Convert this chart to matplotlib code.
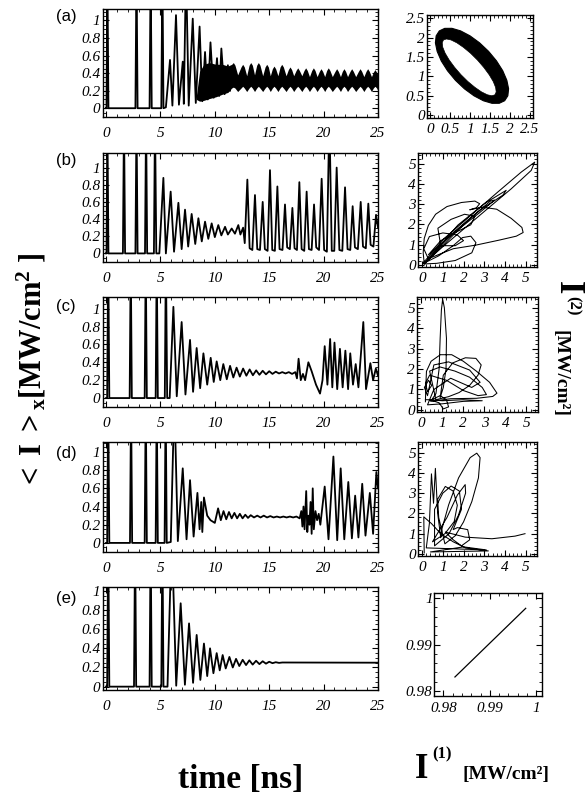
import numpy as np
import matplotlib
matplotlib.use('Agg')
import matplotlib.pyplot as plt
from matplotlib.ticker import MultipleLocator

plt.rcParams['mathtext.fontset'] = 'custom'
plt.rcParams['mathtext.rm'] = 'Liberation Serif'
plt.rcParams['mathtext.bf'] = 'Liberation Serif:bold'
plt.rcParams['mathtext.it'] = 'Liberation Serif:italic'

# ---- data ----------------------------------------------------------------
# time traces <I>x (t in ns, value in MW/cm^2), spikes above 1 are clipped
traceA = [(0, 0), (0.04, 0), (0.12, 1.6), (0.22, 0), (2.7, 0), (2.8, 1.6), (2.9, 0),
          (4.0, 0), (4.1, 1.6), (4.2, 0), (5.08, 0), (5.18, 1.6), (5.28, 0), (5.5, 0.01),
          (5.88, 0.55), (6.1, 0.03), (6.43, 1.06), (6.7, 0.04), (7.05, 0.53), (7.15, 0.05),
          (7.35, 1.6), (7.6, 0.03), (7.97, 1.02), (8.25, 0.06), (8.6, 0.93), (8.85, 0.08),
          (9.1, 0.64), (9.35, 0.1), (9.6, 0.75), (9.9, 0.12), (10.2, 0.57), (10.4, 0.14),
          (10.6, 0.68), (10.9, 0.16), (11.2, 0.49), (11.4, 0.2)]

# fast oscillation band of (a): (t, lower edge, upper edge)
bandA = [(8.3, 0.1, 0.14), (8.6, 0.08, 0.42), (9.0, 0.09, 0.5), (9.5, 0.11, 0.52),
         (10.1, 0.13, 0.5), (10.7, 0.16, 0.5), (11.2, 0.18, 0.48), (11.55, 0.23, 0.5),
         (11.7, 0.24, 0.52), (11.85, 0.23, 0.49), (12.1, 0.19, 0.38), (12.41, 0.23, 0.47),
         (12.56, 0.25, 0.5), (12.71, 0.23, 0.47), (12.93, 0.19, 0.37), (13.15, 0.23, 0.49),
         (13.3, 0.25, 0.52), (13.45, 0.23, 0.49), (13.65, 0.19, 0.38), (13.85, 0.23, 0.49),
         (14.0, 0.25, 0.52), (14.15, 0.23, 0.49), (14.4, 0.19, 0.37), (14.62, 0.23, 0.47),
         (14.77, 0.25, 0.5), (14.92, 0.23, 0.47), (15.1, 0.19, 0.37), (15.29, 0.23, 0.45),
         (15.44, 0.25, 0.48), (15.59, 0.23, 0.45), (15.8, 0.19, 0.37), (16.0, 0.23, 0.47),
         (16.15, 0.25, 0.5), (16.3, 0.23, 0.47), (16.55, 0.19, 0.37), (16.76, 0.23, 0.44),
         (16.91, 0.25, 0.47), (17.06, 0.23, 0.44), (17.25, 0.19, 0.37), (17.47, 0.23, 0.43),
         (17.62, 0.25, 0.46), (17.77, 0.23, 0.43), (18.0, 0.19, 0.37), (18.2, 0.23, 0.43),
         (18.35, 0.25, 0.46), (18.5, 0.23, 0.43), (18.7, 0.19, 0.36), (18.91, 0.23, 0.43),
         (19.06, 0.25, 0.46), (19.21, 0.23, 0.43), (19.4, 0.19, 0.36), (19.61, 0.23, 0.42),
         (19.76, 0.25, 0.45), (19.91, 0.23, 0.42), (20.1, 0.19, 0.36), (20.28, 0.23, 0.43),
         (20.43, 0.25, 0.46), (20.58, 0.23, 0.43), (20.8, 0.19, 0.36), (21.05, 0.23, 0.42),
         (21.2, 0.25, 0.45), (21.35, 0.23, 0.42), (21.55, 0.19, 0.36), (21.72, 0.23, 0.42),
         (21.87, 0.25, 0.45), (22.02, 0.23, 0.42), (22.2, 0.19, 0.36), (22.43, 0.23, 0.42),
         (22.58, 0.25, 0.45), (22.73, 0.23, 0.42), (22.95, 0.19, 0.36), (23.2, 0.23, 0.42),
         (23.35, 0.25, 0.45), (23.5, 0.23, 0.42), (23.7, 0.19, 0.36), (23.9, 0.23, 0.42),
         (24.05, 0.25, 0.45), (24.2, 0.23, 0.42), (24.4, 0.19, 0.36), (24.57, 0.23, 0.41),
         (24.72, 0.25, 0.44), (24.87, 0.23, 0.41), (25.0, 0.2, 0.38)]

traceB = [(0, 0), (0.04, 0), (0.12, 1.6), (0.22, 0), (1.55, 0), (1.65, 1.6), (1.75, 0),
          (2.7, 0), (2.8, 1.6), (2.9, 0), (3.58, 0), (3.68, 1.6), (3.78, 0), (4.4, 0),
          (4.5, 1.6), (4.62, 0.0), (4.9, 0.0), (5.27, 0.88), (5.5, 0.0), (5.94, 0.72),
          (6.25, 0.02), (6.65, 0.59), (6.95, 0.05), (7.26, 0.51), (7.55, 0.08), (7.87, 0.46),
          (8.2, 0.11), (8.49, 0.41), (8.8, 0.14), (9.1, 0.37), (9.4, 0.17), (9.71, 0.35),
          (10.0, 0.19), (10.32, 0.33), (10.6, 0.21), (10.94, 0.31), (11.2, 0.22), (11.55, 0.29),
          (11.85, 0.23), (12.16, 0.33), (12.35, 0.22), (12.6, 0.3), (12.75, 0.12), (12.99, 0.86),
          (13.2, 0.06), (13.45, 0.04), (13.69, 0.68), (13.9, 0.05), (14.15, 0.04), (14.4, 0.6),
          (14.6, 0.05), (14.85, 0.03), (15.07, 0.97), (15.28, 0.04), (15.52, 0.03), (15.75, 0.78),
          (15.95, 0.05), (16.22, 0.04), (16.45, 0.57), (16.65, 0.07), (16.9, 0.05), (17.13, 0.53),
          (17.33, 0.06), (17.55, 0.04), (17.77, 0.83), (17.98, 0.05), (18.22, 0.03), (18.44, 0.72),
          (18.65, 0.05), (18.9, 0.04), (19.12, 0.57), (19.32, 0.07), (19.58, 0.04), (19.82, 0.87),
          (20.05, 0.04), (20.3, 0.02), (20.53, 1.6), (20.75, 0.03), (20.98, 0.03), (21.2, 1.0),
          (21.45, 0.04), (21.72, 0.03), (21.97, 0.77), (22.2, 0.05), (22.45, 0.04), (22.67, 0.55),
          (22.88, 0.07), (23.15, 0.05), (23.41, 0.6), (23.62, 0.08), (23.88, 0.06), (24.11, 0.58),
          (24.32, 0.1), (24.58, 0.08), (24.82, 0.45), (25.0, 0.3)]

traceC = [(0, 0), (0.1, 0), (0.2, 1.6), (0.3, 0), (2.17, 0), (2.27, 1.6), (2.37, 0),
          (3.55, 0), (3.65, 1.6), (3.75, 0), (4.56, 0), (4.66, 1.6), (4.76, 0), (5.4, 0.0),
          (5.5, 1.6), (5.62, 0.0), (5.85, 0.0), (6.19, 1.02), (6.5, 0.02), (6.95, 0.85),
          (7.3, 0.04), (7.72, 0.65), (8.0, 0.07), (8.33, 0.56), (8.65, 0.11), (8.95, 0.5),
          (9.3, 0.15), (9.62, 0.45), (9.9, 0.18), (10.17, 0.41), (10.5, 0.2), (10.78, 0.38),
          (11.1, 0.21), (11.4, 0.36), (11.7, 0.23), (12.0, 0.34), (12.3, 0.24), (12.6, 0.33),
          (12.9, 0.25), (13.2, 0.32), (13.5, 0.255), (13.8, 0.31), (14.1, 0.26), (14.4, 0.305),
          (14.7, 0.265), (15.0, 0.3), (15.3, 0.27), (15.6, 0.295), (15.9, 0.275), (16.2, 0.29),
          (16.5, 0.275), (16.8, 0.29), (17.1, 0.27), (17.4, 0.29), (17.55, 0.22), (17.7, 0.44),
          (17.9, 0.2), (18.1, 0.27), (18.3, 0.2), (18.6, 0.4), (18.9, 0.3), (19.3, 0.15),
          (19.67, 0.05), (19.9, 0.2), (20.1, 0.58), (20.35, 0.15), (20.6, 0.66), (20.8, 0.12),
          (21.0, 0.62), (21.25, 0.1), (21.5, 0.55), (21.75, 0.12), (22.0, 0.53), (22.25, 0.1),
          (22.45, 0.5), (22.7, 0.15), (22.95, 0.38), (23.2, 0.12), (23.65, 0.85), (23.9, 0.1),
          (24.3, 0.39), (24.55, 0.2), (24.8, 0.33), (25.0, 0.25)]

traceD = [(0, 0), (0.1, 0), (0.2, 1.6), (0.3, 0), (2.2, 0), (2.3, 1.6), (2.4, 0),
          (3.55, 0), (3.65, 1.6), (3.75, 0), (4.56, 0), (4.66, 1.6), (4.76, 0), (5.38, 0),
          (5.48, 1.6), (5.58, 0), (5.95, 0.01), (6.28, 1.6), (6.6, 0.02), (7.05, 0.82),
          (7.4, 0.04), (7.72, 0.69), (8.05, 0.07), (8.4, 0.55), (8.6, 0.15), (8.75, 0.45),
          (8.85, 0.12), (9.0, 0.5), (9.3, 0.3), (9.6, 0.25), (10.0, 0.22), (10.3, 0.38),
          (10.55, 0.25), (10.8, 0.35), (11.05, 0.26), (11.3, 0.34), (11.55, 0.27), (11.8, 0.33),
          (12.05, 0.27), (12.3, 0.32), (12.55, 0.27), (12.8, 0.31), (13.05, 0.275), (13.3, 0.305),
          (13.6, 0.28), (13.9, 0.3), (14.2, 0.28), (14.5, 0.3), (14.8, 0.28), (15.1, 0.295),
          (15.4, 0.28), (15.7, 0.29), (16.0, 0.28), (16.3, 0.29), (16.6, 0.28), (16.9, 0.29),
          (17.2, 0.28), (17.5, 0.29), (17.8, 0.27), (17.95, 0.35), (18.05, 0.18), (18.15, 0.4),
          (18.25, 0.15), (18.4, 0.57), (18.5, 0.12), (18.6, 0.3), (18.7, 0.2), (18.8, 0.45),
          (18.9, 0.1), (19.0, 0.6), (19.1, 0.15), (19.25, 0.35), (19.4, 0.25), (19.55, 0.32),
          (19.7, 0.2), (20.1, 0.62), (20.45, 0.04), (20.9, 0.95), (21.25, 0.03), (21.57, 0.82),
          (21.9, 0.04), (22.27, 0.67), (22.6, 0.05), (22.9, 0.52), (23.2, 0.06), (23.55, 0.65),
          (23.85, 0.08), (24.25, 0.55), (24.55, 0.1), (24.85, 0.78), (25.0, 0.6)]

traceE = [(0, 0), (0.1, 0), (0.2, 1.6), (0.3, 0), (2.57, 0), (2.67, 1.6), (2.77, 0),
          (4.0, 0), (4.1, 1.6), (4.2, 0), (5.08, 0), (5.18, 1.6), (5.28, 0), (5.65, 0.0),
          (6.04, 1.6), (6.45, 0.01), (6.86, 0.87), (7.25, 0.02), (7.63, 0.66), (8.0, 0.04),
          (8.33, 0.54), (8.67, 0.07), (9.0, 0.45), (9.3, 0.11), (9.56, 0.4), (9.87, 0.14),
          (10.17, 0.35), (10.45, 0.17), (10.72, 0.33), (11.0, 0.19), (11.34, 0.31), (11.65, 0.2),
          (11.95, 0.29), (12.25, 0.215), (12.56, 0.28), (12.87, 0.225), (13.17, 0.275),
          (13.48, 0.23), (13.79, 0.27), (14.1, 0.235), (14.4, 0.265), (14.7, 0.24), (15.0, 0.26),
          (15.3, 0.245), (15.6, 0.255), (15.9, 0.248), (16.2, 0.252), (25.0, 0.25)]

# phase portraits I(1) vs I(2)
ringOuterA = [(0.233, 2.173), (0.368, 2.239), (0.549, 2.24), (0.765, 2.174), (1.0, 2.046),
              (1.238, 1.866), (1.464, 1.645), (1.662, 1.398), (1.818, 1.144), (1.921, 0.896),
              (1.965, 0.676), (1.946, 0.495), (1.867, 0.367), (1.732, 0.301), (1.551, 0.3),
              (1.335, 0.366), (1.1, 0.494), (0.862, 0.674), (0.636, 0.895), (0.438, 1.142),
              (0.282, 1.396), (0.179, 1.644), (0.135, 1.864), (0.154, 2.045)]
ringInnerA = [(0.337, 1.94), (0.413, 1.965), (0.527, 1.939), (0.672, 1.865), (0.837, 1.747),
              (1.014, 1.595), (1.187, 1.418), (1.346, 1.227), (1.481, 1.037), (1.582, 0.861),
              (1.641, 0.709), (1.655, 0.593), (1.623, 0.52), (1.547, 0.495), (1.433, 0.521),
              (1.288, 0.595), (1.123, 0.713), (0.946, 0.865), (0.773, 1.042), (0.614, 1.233),
              (0.479, 1.423), (0.378, 1.599), (0.319, 1.751), (0.305, 1.867)]

phaseB = [(0.05, 0.1), (1.08, 1.32), (2.37, 2.46), (3.66, 3.6), (4.79, 4.58), (5.44, 5.07),
          (5.27, 4.66), (4.31, 3.76), (3.18, 2.79), (2.05, 1.81), (0.92, 0.83), (0.1, 0.08),
          (0.05, 0.6), (0.1, 1.3), (0.3, 1.95), (0.65, 2.5), (1.2, 2.88), (1.9, 3.08),
          (2.55, 3.15), (2.78, 3.02), (2.62, 2.82), (2.3, 2.72), (2.9, 2.85), (3.6, 2.75),
          (4.3, 2.3), (4.82, 1.85), (4.88, 1.6), (4.55, 1.42), (3.7, 1.22), (2.6, 0.98),
          (1.5, 0.8), (0.4, 0.35), (0.08, 0.05), (0.7, 0.08), (1.6, 0.22), (2.4, 0.6),
          (2.6, 1.1), (2.35, 1.42), (1.95, 1.35), (1.5, 0.95), (0.8, 0.45), (0.15, 0.12),
          (1.73, 1.97), (3.02, 3.03), (4.06, 3.68), (3.9, 3.44), (2.85, 2.74), (1.56, 1.65),
          (0.3, 0.3), (0.08, 0.8), (0.35, 1.4), (1.0, 1.58), (1.7, 1.48), (2.0, 1.2),
          (1.6, 0.95), (0.9, 0.95), (0.76, 1.81), (1.4, 2.25), (2.05, 2.5), (2.55, 2.4),
          (2.35, 1.98), (1.6, 1.6), (0.9, 1.2), (0.3, 0.5), (1.5, 1.55), (2.8, 2.6),
          (3.5, 3.2), (3.3, 3.15), (2.2, 2.2), (1.0, 0.95), (0.1, 0.05)]

phaseC = [(0.2, 0.4), (0.22, 1.2), (0.25, 1.89), (0.47, 2.38), (0.91, 2.7), (1.45, 2.7),
          (2.0, 2.38), (2.63, 1.89), (3.25, 1.35), (3.6, 0.82), (3.4, 0.66), (2.63, 0.57),
          (1.4, 0.55), (0.45, 0.42), (0.7, 0.8), (0.85, 2.0), (0.9, 3.5), (0.96, 4.9),
          (1.02, 5.4), (1.1, 5.0), (1.2, 3.5), (1.18, 2.0), (1.05, 1.1), (0.9, 0.6),
          (1.05, 1.7), (1.5, 2.3), (2.1, 2.55), (2.6, 2.52), (2.85, 2.2), (2.7, 1.7),
          (2.3, 1.2), (1.8, 0.85), (1.3, 0.65), (0.7, 0.5), (0.4, 1.9), (0.9, 2.1),
          (1.6, 1.9), (2.3, 1.6), (2.9, 1.1), (3.1, 0.75), (2.7, 0.7), (2.0, 0.95),
          (1.2, 1.45), (0.4, 1.7), (0.2, 1.3), (0.3, 0.9), (0.5, 1.2), (0.35, 1.45),
          (0.15, 1.1), (0.3, 0.7), (0.6, 2.2), (1.3, 2.35), (2.3, 1.95), (2.8, 1.35),
          (2.4, 1.1), (1.4, 1.55), (0.6, 1.0), (0.3, 0.25), (1.0, 0.3), (2.0, 0.42),
          (2.9, 0.45), (2.0, 0.5), (1.0, 0.45), (0.4, 0.5), (0.85, 0.35), (1.05, 0.05),
          (1.3, 0.15), (1.2, 0.5), (0.9, 0.7), (0.5, 0.5), (0.2, 0.5)]

phaseD = [(0.1, 0.05), (0.08, 1.83), (0.45, 1.5), (0.9, 1.0), (1.5, 0.6), (2.1, 0.3),
          (3.2, 0.15), (0.4, 0.1), (2.0, 0.35), (3.1, 0.2), (0.2, 0.3), (0.35, 1.5),
          (0.45, 3.95), (0.55, 2.5), (0.64, 4.22), (0.75, 2.0), (0.9, 0.8), (0.96, 1.25),
          (1.28, 2.42), (1.76, 3.75), (2.32, 4.75), (2.64, 4.97), (2.8, 4.75), (2.72, 3.75),
          (2.4, 2.58), (2.0, 1.58), (1.6, 0.9), (1.1, 0.5), (0.8, 1.8), (0.75, 2.7),
          (1.12, 3.33), (1.5, 3.1), (1.7, 2.4), (1.55, 1.6), (1.1, 1.0), (0.5, 0.6),
          (1.2, 1.8), (1.7, 2.9), (2.08, 3.42), (2.1, 3.0), (1.75, 1.9), (1.3, 1.0),
          (0.6, 0.4), (0.6, 2.2), (1.0, 3.0), (1.4, 3.35), (1.8, 3.1), (1.9, 2.2),
          (1.5, 1.2), (1.7, 1.3), (2.2, 1.2), (2.3, 0.7), (1.9, 0.4), (1.5, 0.7),
          (1.12, 1.08), (2.08, 0.83), (3.37, 0.75), (4.49, 0.88), (4.97, 1.0)]

phaseEx = [0.9825, 0.9977]
phaseEy = [0.983, 0.9978]

# tick values and labels
timeTicks = [0, 5, 10, 15, 20, 25]
levelTicks = [0, 0.2, 0.4, 0.6, 0.8, 1]
levelTickLabels = ['0', '0.2', '0.4', '0.6', '0.8', '1']
ringTicks = [0, 0.5, 1, 1.5, 2, 2.5]
ringTickLabels = ['0', '0.5', '1', '1.5', '2', '2.5']
chaosTicks = [0, 1, 2, 3, 4, 5]
fixedTicks = [0.98, 0.99, 1.0]
fixedTickLabels = ['0.98', '0.99', '1']
panelLetters = ['(a)', '(b)', '(c)', '(d)', '(e)']

# ---- figure and panels (positions in pixels of a 588x798 canvas) ----------
figureWidth = 588
figureHeight = 798
fig = plt.figure(figsize=(figureWidth / 100, figureHeight / 100), dpi=100)


def pixelAxes(left, top, right, bottom):
    return fig.add_axes([left / figureWidth, 1 - bottom / figureHeight,
                         (right - left) / figureWidth, (bottom - top) / figureHeight])


def figText(x, y, s, **kw):
    return fig.text(x / figureWidth, 1 - y / figureHeight, s, **kw)


tickFont = {'family': 'Liberation Serif', 'style': 'italic', 'size': 11}

timeRows = [(9, 117), (153, 262), (297, 407), (442, 552), (587, 690)]
timeLims = [(-0.1, 1.13), (-0.1, 1.17), (-0.1, 1.13), (-0.1, 1.11), (-0.035, 1.04)]
timeTraces = [traceA, traceB, traceC, traceD, traceE]
phaseBoxes = [(427, 15, 533, 118), (418, 153, 537, 267), (417, 297, 538, 412),
              (418, 442, 537, 556), (434, 593, 542, 696)]
labelRows = [16, 160, 307, 453, 598]


def styleFrame(ax, xpad, ypad):
    ax.tick_params(which='both', direction='in', top=True, right=True)
    ax.tick_params(which='major', length=4, width=0.8)
    ax.tick_params(which='minor', length=2, width=0.6)
    ax.tick_params(axis='x', pad=xpad)
    ax.tick_params(axis='y', pad=ypad)
    for spine in ax.spines.values():
        spine.set_linewidth(1.0)


"""left column: time traces"""
for i in range(5):
    top, bottom = timeRows[i]
    ax = pixelAxes(103, top, 378, bottom)
    t, v = np.array(timeTraces[i]).T
    if i == 0:
        bt, blo, bhi = np.array(bandA).T
        ax.fill_between(bt, blo, bhi, color='black', linewidth=0)
    ax.plot(t, v, color='black', linewidth=1.3)
    ax.set_xlim(-0.28, 25.0)
    ax.set_ylim(*timeLims[i])
    ax.set_xticks(timeTicks)
    ax.set_xticklabels([str(x) for x in timeTicks], fontdict=tickFont)
    ax.set_yticks(levelTicks)
    ax.set_yticklabels(levelTickLabels, fontdict=tickFont)
    ax.xaxis.set_minor_locator(MultipleLocator(1))
    ax.yaxis.set_minor_locator(MultipleLocator(0.05))
    styleFrame(ax, 7, 2)
    figText(66, labelRows[i], panelLetters[i], family='Liberation Sans',
            fontsize=12, ha='center', va='center')

"""right column: phase portraits"""
# (a) thick ring
ax = pixelAxes(*phaseBoxes[0])
ox, oy = np.array(ringOuterA).T
ix, iy = np.array(ringInnerA).T
ax.fill(ox, oy, color='black', linewidth=0.8)
ax.fill(ix, iy, color='white', edgecolor='black', linewidth=0.5)
ax.set_xlim(-0.075, 2.575)
ax.set_ylim(-0.08, 2.585)
ax.set_xticks(ringTicks)
ax.set_xticklabels(ringTickLabels, fontdict=tickFont)
ax.set_yticks(ringTicks)
ax.set_yticklabels(ringTickLabels, fontdict=tickFont)
ax.xaxis.set_minor_locator(MultipleLocator(0.1))
ax.yaxis.set_minor_locator(MultipleLocator(0.1))
styleFrame(ax, 3.5, 1.5)

# (b)-(d) chaotic loops
for j, phase in enumerate([phaseB, phaseC, phaseD]):
    ax = pixelAxes(*phaseBoxes[j + 1])
    px, py = np.array(phase).T
    ax.plot(px, py, color='black', linewidth=0.75)
    ax.set_xlim(-0.2, 5.55)
    ax.set_ylim(-0.1, 5.52)
    ax.set_xticks(chaosTicks)
    ax.set_xticklabels([str(x) for x in chaosTicks], fontdict=tickFont)
    ax.set_yticks(chaosTicks)
    ax.set_yticklabels([str(x) for x in chaosTicks], fontdict=tickFont)
    ax.xaxis.set_minor_locator(MultipleLocator(0.2))
    ax.yaxis.set_minor_locator(MultipleLocator(0.2))
    styleFrame(ax, 3.5, 1.5)

# (e) fixed point line
ax = pixelAxes(*phaseBoxes[4])
ax.plot(phaseEx, phaseEy, color='black', linewidth=0.9)
ax.set_xlim(0.978, 1.0012)
ax.set_ylim(0.9789, 1.0011)
ax.set_xticks(fixedTicks)
ax.set_xticklabels(fixedTickLabels, fontdict=tickFont)
ax.set_yticks(fixedTicks)
ax.set_yticklabels(fixedTickLabels, fontdict=tickFont)
ax.xaxis.set_minor_locator(MultipleLocator(0.002))
ax.yaxis.set_minor_locator(MultipleLocator(0.002))
styleFrame(ax, 4, 1)

"""axis titles"""
boldSerif = {'family': 'Liberation Serif', 'weight': 'bold'}
figText(31, 371, r'$\mathbf{<\ I\ >_{x}[MW/cm^{2}\ ]}$', rotation=90,
        fontsize=22, ha='center', va='center')
figText(241, 780, 'time [ns]', fontsize=24, ha='center', va='center', **boldSerif)

figText(567, 288, 'I', rotation=270, fontsize=25, ha='center', va='center', **boldSerif)
figText(573, 306, '(2)', rotation=270, fontsize=12, ha='center', va='center', **boldSerif)
figText(560, 374, '[MW/cm²]', rotation=270, fontsize=14, ha='center', va='center', **boldSerif)

figText(422, 770, 'I', fontsize=25, ha='center', va='center', **boldSerif)
figText(442, 754, '(1)', fontsize=12, ha='center', va='center', **boldSerif)
figText(506, 774, '[MW/cm²]', fontsize=14, ha='center', va='center', **boldSerif)

plt.savefig('out.png', dpi=100)
